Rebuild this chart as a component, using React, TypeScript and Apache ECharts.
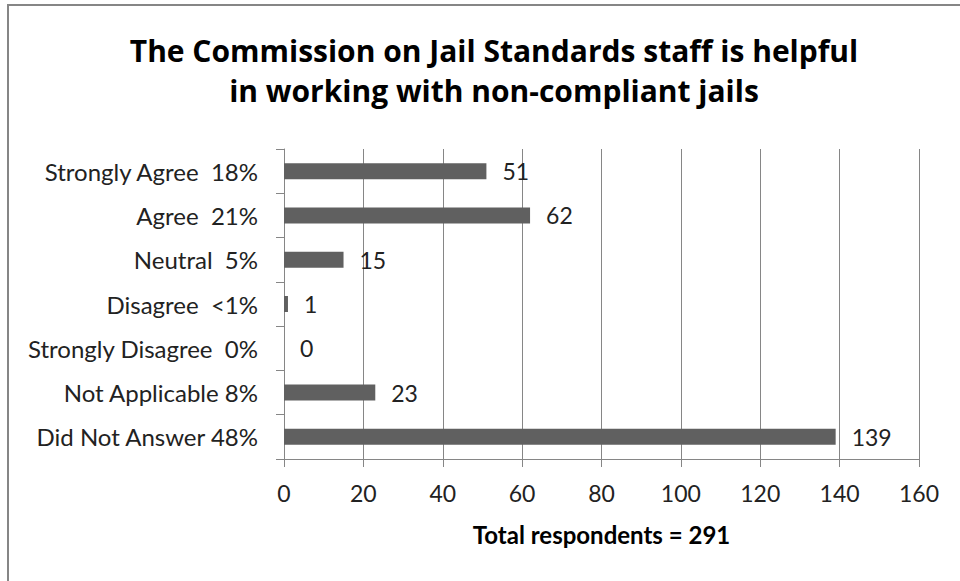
import React, { useEffect, useRef } from "react";
import * as echarts from "echarts";

const titleLines = [
  "The Commission on Jail Standards staff is helpful",
  "in working with non-compliant jails",
];
const categories = [
  "Strongly Agree  18%",
  "Agree  21%",
  "Neutral  5%",
  "Disagree  <1%",
  "Strongly Disagree  0%",
  "Not Applicable 8%",
  "Did Not Answer 48%",
];
const values = [51, 62, 15, 1, 0, 23, 139];
const xAxisName = "Total respondents = 291";
const xMin = 0;
const xMax = 160;
const xInterval = 20;

const FONT = "Lato, 'Open Sans', sans-serif";
const TITLE_FONT = "'Open Sans', Lato, sans-serif";

export default function App() {
  const ref = useRef<HTMLDivElement>(null);
  useEffect(() => {
    document.body.style.margin = "0";
    if (!ref.current) return;
    const chart = echarts.init(ref.current, undefined, { renderer: "svg" });
    chart.setOption({
      animation: false,
      backgroundColor: "#ffffff",
      textStyle: { fontFamily: FONT },
      title: {
        text: titleLines.join("\n"),
        left: 489,
        top: 25,
        textAlign: "center",
        textStyle: {
          fontFamily: TITLE_FONT,
          fontWeight: "bold",
          fontSize: 30,
          lineHeight: 40,
          color: "#000000",
        },
      },
      graphic: [
        {
          type: "rect",
          shape: { x: 8, y: 5, width: 1000, height: 700 },
          style: { fill: "none", stroke: "#868686", lineWidth: 2 },
          silent: true,
          z: 100,
        },
      ],
      grid: { left: 284, right: 41, top: 149, bottom: 122, containLabel: false },
      xAxis: {
        type: "value",
        min: xMin,
        max: xMax,
        interval: xInterval,
        name: xAxisName,
        nameLocation: "middle",
        nameGap: 63,
        nameTextStyle: {
          fontFamily: FONT,
          fontWeight: "bold",
          fontSize: 24,
          color: "#000000",
        },
        axisLine: { show: true, lineStyle: { color: "#868686", width: 1 } },
        axisTick: { show: true, length: 8, lineStyle: { color: "#868686" } },
        axisLabel: { fontFamily: FONT, fontSize: 23, color: "#222222", margin: 22 },
        splitLine: { show: true, lineStyle: { color: "#868686", width: 1 } },
      },
      yAxis: {
        type: "category",
        data: categories,
        inverse: true,
        axisLine: { show: true, lineStyle: { color: "#868686", width: 1 } },
        axisTick: { show: true, length: 8, lineStyle: { color: "#868686" } },
        axisLabel: { fontFamily: FONT, fontSize: 24, color: "#222222", margin: 26 },
        splitLine: { show: false },
      },
      series: [
        {
          type: "bar",
          data: values,
          barWidth: 16,
          itemStyle: { color: "#606060" },
          label: {
            show: true,
            position: "right",
            distance: 16,
            fontFamily: FONT,
            fontSize: 23,
            color: "#222222",
          },
        },
      ],
    });
    return () => chart.dispose();
  }, []);
  return <div ref={ref} style={{ width: 960, height: 581 }} />;
}
